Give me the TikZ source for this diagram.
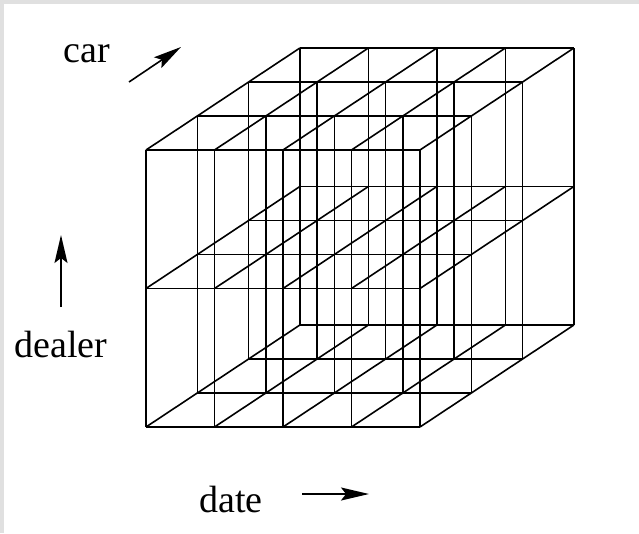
\documentclass[tikz,border=0pt]{standalone}
\usepackage{fontspec}
\setmainfont{Liberation Serif}
\usetikzlibrary{arrows.meta}
\definecolor{FrameGray}{RGB}{224,224,224}

\begin{document}
\begin{tikzpicture}[x=1pt, y=-1pt, line width=1.6pt,
		axisarrow/.style={-{Stealth[length=28pt, width=13pt, inset=5pt]}, line width=1.6pt},
		axislabel/.style={font=\fontsize{38}{40}\selectfont, inner sep=0pt, anchor=base}]
	\useasboundingbox (0,0) rectangle (639,533);
	% 边框
	\fill[FrameGray] (0,0) rectangle (639,4);
	\fill[FrameGray] (0,0) rectangle (4,533);
	% 网格：4 x 2 x 3
	\begin{scope}[shift={(146pt,-427pt)}, x={(68.5pt,0pt)}, y={(0pt,138.5pt)}, z={(51.3pt,34pt)}]
		\foreach \k in {0,...,3} {
			\foreach \j in {0,1,2}
				\draw (0,\j,\k) -- (4,\j,\k);
			\foreach \i in {0,...,4}
				\draw (\i,0,\k) -- (\i,2,\k);
		}
		\foreach \i in {0,...,4}
			\foreach \j in {0,1,2}
				\draw (\i,\j,0) -- (\i,\j,3);
	\end{scope}
	% car
	\node[axislabel] (carlabel) at (87,62) {car};
	\coordinate (carfrom) at (129,82);
	\coordinate (carto) at (181,47);
	\draw[axisarrow] (carfrom) -- (carto);
	% dealer
	\node[axislabel] (dealerlabel) at (61,357) {dealer};
	\coordinate (dealerfrom) at (61,307);
	\coordinate (dealerto) at (61,235);
	\draw[axisarrow] (dealerfrom) -- (dealerto);
	% date
	\node[axislabel] (datelabel) at (231,512) {date};
	\coordinate (datefrom) at (302,494);
	\coordinate (dateto) at (369,494);
	\draw[axisarrow] (datefrom) -- (dateto);
\end{tikzpicture}
\end{document}
